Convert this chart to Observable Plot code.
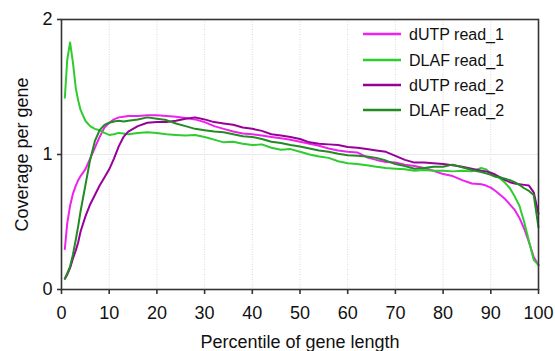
<!DOCTYPE html>
<html>
<head>
<meta charset="utf-8">
<script src="https://cdn.jsdelivr.net/npm/d3@7"></script>
<script src="https://cdn.jsdelivr.net/npm/@observablehq/plot@0.6"></script>
<style>
  html, body { margin: 0; padding: 0; background: #fff; }
  #chart { position: relative; width: 555px; height: 351px; font-family: "Liberation Sans", Arial, Helvetica, sans-serif; }
  #legend { position: absolute; left: 0; top: 0; pointer-events: none; }
</style>
</head>
<body>
<div id="chart"></div>
<script>
const percentiles = [0.7, 1.2, 1.8, 2.4, 3, 3.5, 4, 5, 6, 7, 8, 9, 10, 11, 12, 13, 14, 16, 18, 20, 22, 24, 26, 28, 30, 32, 34, 36, 38, 40, 42, 44, 46, 48, 50, 52, 54, 56, 58, 60, 62, 64, 66, 68, 70, 72, 74, 76, 78, 80, 82, 84, 86, 88, 89, 90, 91, 92, 93, 94, 95, 96, 97, 98, 99, 100];

const dutpRead1 = [0.30, 0.49, 0.62, 0.71, 0.77, 0.81, 0.84, 0.89, 0.97, 1.05, 1.13, 1.20, 1.235, 1.26, 1.275, 1.28, 1.285, 1.285, 1.29, 1.29, 1.285, 1.28, 1.27, 1.26, 1.24, 1.21, 1.19, 1.17, 1.155, 1.15, 1.14, 1.13, 1.12, 1.11, 1.095, 1.08, 1.065, 1.045, 1.03, 1.02, 1.015, 0.98, 0.96, 0.945, 0.94, 0.925, 0.915, 0.90, 0.88, 0.855, 0.84, 0.81, 0.785, 0.78, 0.77, 0.755, 0.73, 0.70, 0.67, 0.63, 0.59, 0.53, 0.45, 0.35, 0.24, 0.18];

const dlafRead1 = [1.42, 1.70, 1.83, 1.68, 1.49, 1.40, 1.33, 1.25, 1.21, 1.19, 1.18, 1.16, 1.145, 1.15, 1.16, 1.155, 1.15, 1.16, 1.165, 1.16, 1.15, 1.145, 1.14, 1.145, 1.13, 1.11, 1.09, 1.095, 1.08, 1.07, 1.075, 1.05, 1.035, 1.04, 1.02, 1.00, 0.985, 0.975, 0.95, 0.935, 0.93, 0.92, 0.91, 0.90, 0.895, 0.89, 0.88, 0.885, 0.88, 0.88, 0.875, 0.88, 0.875, 0.90, 0.89, 0.86, 0.845, 0.82, 0.79, 0.75, 0.69, 0.62, 0.50, 0.36, 0.22, 0.18];

const dutpRead2 = [0.08, 0.11, 0.16, 0.23, 0.29, 0.35, 0.43, 0.54, 0.63, 0.70, 0.77, 0.83, 0.89, 0.97, 1.06, 1.13, 1.17, 1.21, 1.235, 1.24, 1.24, 1.25, 1.265, 1.275, 1.26, 1.24, 1.23, 1.22, 1.20, 1.19, 1.175, 1.15, 1.14, 1.13, 1.115, 1.09, 1.08, 1.075, 1.07, 1.055, 1.05, 1.04, 1.03, 1.02, 0.99, 0.96, 0.94, 0.94, 0.935, 0.93, 0.92, 0.91, 0.895, 0.88, 0.875, 0.865, 0.85, 0.83, 0.81, 0.795, 0.785, 0.78, 0.775, 0.77, 0.72, 0.56];

const dlafRead2 = [0.08, 0.12, 0.17, 0.26, 0.37, 0.47, 0.58, 0.77, 0.96, 1.10, 1.18, 1.22, 1.235, 1.245, 1.25, 1.245, 1.25, 1.26, 1.275, 1.265, 1.255, 1.23, 1.21, 1.19, 1.18, 1.17, 1.165, 1.15, 1.135, 1.13, 1.115, 1.095, 1.085, 1.07, 1.06, 1.045, 1.03, 1.02, 1.005, 0.995, 0.99, 0.985, 0.975, 0.955, 0.93, 0.915, 0.895, 0.90, 0.91, 0.91, 0.925, 0.905, 0.885, 0.87, 0.86, 0.85, 0.835, 0.83, 0.82, 0.81, 0.795, 0.775, 0.75, 0.73, 0.70, 0.46];

const seriesNames = ["dUTP read_1", "DLAF read_1", "dUTP read_2", "DLAF read_2"];
const seriesColors = ["#ee22ee", "#2ecc2e", "#990099", "#228b22"];
const seriesValues = [dutpRead1, dlafRead1, dutpRead2, dlafRead2];

const xTicks = [0, 10, 20, 30, 40, 50, 60, 70, 80, 90, 100];
const yTicks = [0, 1, 2];
const xGrid = [10, 20, 30, 40, 50, 60, 70, 80, 90];

const rows = [];
seriesNames.forEach((name, i) => {
  percentiles.forEach((p, j) => rows.push({series: name, x: p, y: seriesValues[i][j]}));
});

const font = "'Liberation Sans', Arial, Helvetica, sans-serif";

const plot = Plot.plot({
  width: 555,
  height: 351,
  marginLeft: 61,
  marginRight: 17,
  marginTop: 19,
  marginBottom: 62,
  style: {fontFamily: font, fontSize: "18px", color: "#111", background: "#fff"},
  x: {domain: [0, 100]},
  y: {domain: [0, 2]},
  color: {domain: seriesNames, range: seriesColors},
  marks: [
    Plot.ruleX(xGrid, {stroke: "#cfcfcf", strokeWidth: 0.8, strokeDasharray: "1,1.5"}),
    Plot.ruleY([1], {stroke: "#e4e4e4", strokeWidth: 0.8}),
    Plot.line(rows, {x: "x", y: "y", z: "series", stroke: "series", strokeWidth: 2, curve: "linear"}),
    Plot.frame({stroke: "#333", strokeWidth: 1.6}),
    Plot.axisX({ticks: xTicks, tickFormat: d3.format("d"), tickSize: 5, tickPadding: 12, fontSize: 18, label: null, stroke: "#333", strokeWidth: 1.6}),
    Plot.axisY({ticks: yTicks, tickFormat: d3.format("d"), tickSize: 4, tickPadding: 5, fontSize: 18, label: null, stroke: "#333", strokeWidth: 1.6}),
    Plot.text(["Percentile of gene length"], {frameAnchor: "bottom", dy: 58, fontSize: 18, fill: "#111"}),
    Plot.text(["Coverage per gene"], {frameAnchor: "left", textAnchor: "middle", dx: -39, rotate: -90, fontSize: 18, fill: "#111"})
  ]
});

const chart = document.getElementById("chart");
chart.appendChild(plot);

// legend overlay inside the plot area (top right)
const legend = d3.select(chart).append("svg")
  .attr("id", "legend")
  .attr("width", 555).attr("height", 351);
const ly = [34, 60, 85, 110];
seriesNames.forEach((name, i) => {
  const g = legend.append("g").attr("transform", `translate(363,${ly[i]})`);
  g.append("line").attr("x1", 0).attr("x2", 38).attr("y1", 0).attr("y2", 0)
    .attr("stroke", seriesColors[i]).attr("stroke-width", 2.6);
  g.append("text").attr("x", 46).attr("y", 0).attr("dy", "0.35em")
    .attr("font-family", font)
    .attr("font-size", 16).attr("fill", "#111").text(name);
});
</script>
</body>
</html>
